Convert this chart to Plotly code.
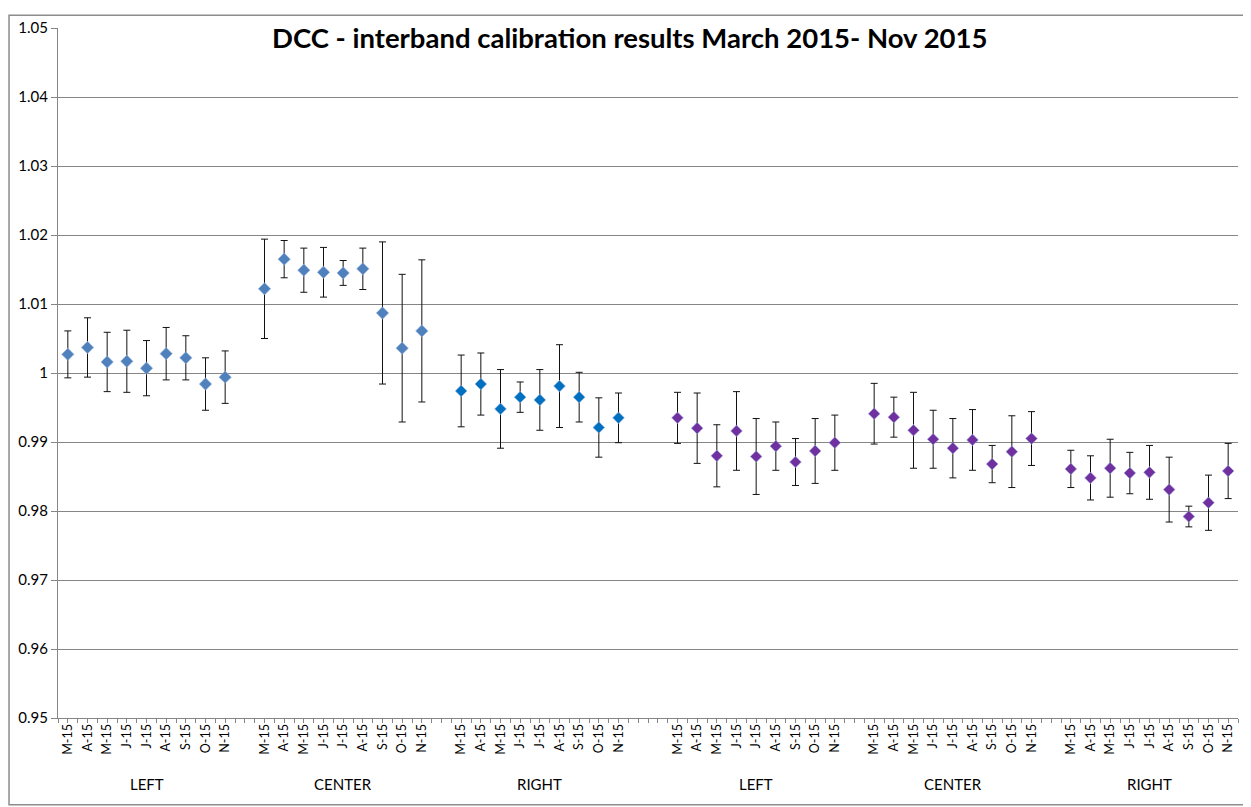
import plotly.graph_objects as go

# ---- data ----
months = ["M-15", "A-15", "M-15", "J-15", "J-15", "A-15", "S-15", "O-15", "N-15"]
group_names = ["LEFT", "CENTER", "RIGHT", "LEFT", "CENTER", "RIGHT"]

left1 = [1.0027, 1.0037, 1.0016, 1.0017, 1.0007, 1.0028, 1.0022, 0.9984, 0.9994]
left1_err = [0.0034, 0.0043, 0.0043, 0.0045, 0.0040, 0.0038, 0.0032, 0.0038, 0.0038]

center1 = [1.0122, 1.0165, 1.0149, 1.0146, 1.0145, 1.0151, 1.0087, 1.0036, 1.0061]
center1_err = [0.0072, 0.0027, 0.0032, 0.0036, 0.0018, 0.0030, 0.0103, 0.0107, 0.0103]

right1 = [0.9974, 0.9984, 0.9948, 0.9965, 0.9961, 0.9981, 0.9965, 0.9921, 0.9935]
right1_err = [0.0052, 0.0045, 0.0057, 0.0022, 0.0044, 0.0060, 0.0036, 0.0043, 0.0036]

left2 = [0.9935, 0.9920, 0.9880, 0.9916, 0.9879, 0.9894, 0.9871, 0.9887, 0.9899]
left2_err = [0.0037, 0.0051, 0.0045, 0.0057, 0.0055, 0.0035, 0.0034, 0.0047, 0.0040]

center2 = [0.9941, 0.9936, 0.9917, 0.9904, 0.9891, 0.9903, 0.9868, 0.9886, 0.9905]
center2_err = [0.0044, 0.0029, 0.0055, 0.0042, 0.0043, 0.0044, 0.0027, 0.0052, 0.0039]

right2 = [0.9861, 0.9848, 0.9862, 0.9855, 0.9856, 0.9831, 0.9792, 0.9812, 0.9858]
right2_err = [0.0027, 0.0032, 0.0042, 0.0030, 0.0039, 0.0047, 0.0015, 0.0040, 0.0040]

y_ticks = [0.95, 0.96, 0.97, 0.98, 0.99, 1.0, 1.01, 1.02, 1.03, 1.04, 1.05]
y_tick_labels = ["0.95", "0.96", "0.97", "0.98", "0.99", "1", "1.01", "1.02", "1.03", "1.04", "1.05"]

title = "DCC - interband calibration results March 2015- Nov 2015"

# ---- layout / style config ----
series = [left1, center1, right1, left2, center2, right2]
errors = [left1_err, center1_err, right1_err, left2_err, center2_err, right2_err]
colors = ["#4F81BD", "#4F81BD", "#0070C0", "#7030A0", "#7030A0", "#7030A0"]
msizes = [9.5, 9.5, 9, 9, 9, 9]
gaps_after = [1, 1, 2, 1, 1]  # empty category slots between groups

FONT = "Lato, Carlito, Calibri, sans-serif"

fig = go.Figure()
starts = []
pos = 0
for g in range(len(series)):
    starts.append(pos)
    pos += len(months) + (gaps_after[g] if g < len(gaps_after) else 0)
n_slots = pos

tickvals, ticktext = [], []
for g, (vals, errs) in enumerate(zip(series, errors)):
    xs = [starts[g] + i for i in range(len(vals))]
    tickvals += xs
    ticktext += months
    fig.add_trace(go.Scatter(
        x=xs, y=vals, mode="markers",
        marker=dict(symbol="diamond", size=msizes[g], color=colors[g],
                    line=dict(width=0.6, color="#9DB3DD")),
        error_y=dict(type="data", array=errs, visible=True,
                     color="#111111", thickness=1, width=3.5),
        showlegend=False, hoverinfo="x+y",
    ))

annotations = [dict(
    text="<b>" + title + "</b>", xref="paper", yref="paper",
    x=0.484, y=0.986, xanchor="center", yanchor="middle", showarrow=False,
    font=dict(family=FONT, size=27.5, color="#000000"),
)]
for g, name in enumerate(group_names):
    annotations.append(dict(
        text=name, xref="x", yref="paper",
        x=starts[g] + (len(months) - 1) / 2, y=-0.0957,
        xanchor="center", yanchor="middle", showarrow=False,
        font=dict(family=FONT, size=15, color="#000000"),
    ))

fig.update_layout(
    width=1243, height=799,
    margin=dict(l=50, r=13, t=10, b=89),
    paper_bgcolor="white", plot_bgcolor="white",
    annotations=annotations,
    shapes=[dict(type="rect", xref="paper", yref="paper",
                 x0=-0.0415, x1=1.0068, y0=-0.1257, y1=1.0186,
                 line=dict(color="#8C8C8C", width=1.5), layer="below")],
    xaxis=dict(
        range=[-0.5, n_slots - 0.5], tickmode="array",
        tickvals=tickvals, ticktext=ticktext, tickangle=-90,
        ticks="", showgrid=False, zeroline=False,
        showline=True, linecolor="#868686", linewidth=1,
        tickfont=dict(family=FONT, size=12.5, color="#000000"),
        minor=dict(tick0=-0.5, dtick=0.5, ticks="outside", ticklen=4,
                   tickcolor="#868686", tickwidth=1, showgrid=False),
    ),
    yaxis=dict(
        range=[0.95, 1.05], tickmode="array",
        tickvals=y_ticks, ticktext=y_tick_labels,
        showgrid=True, gridcolor="#868686", gridwidth=1,
        zeroline=False, showline=True, linecolor="#868686", linewidth=1,
        ticks="outside", ticklen=6, tickcolor="#868686",
        tickfont=dict(family=FONT, size=15, color="#000000"),
    ),
)

fig.write_html("out.html")
